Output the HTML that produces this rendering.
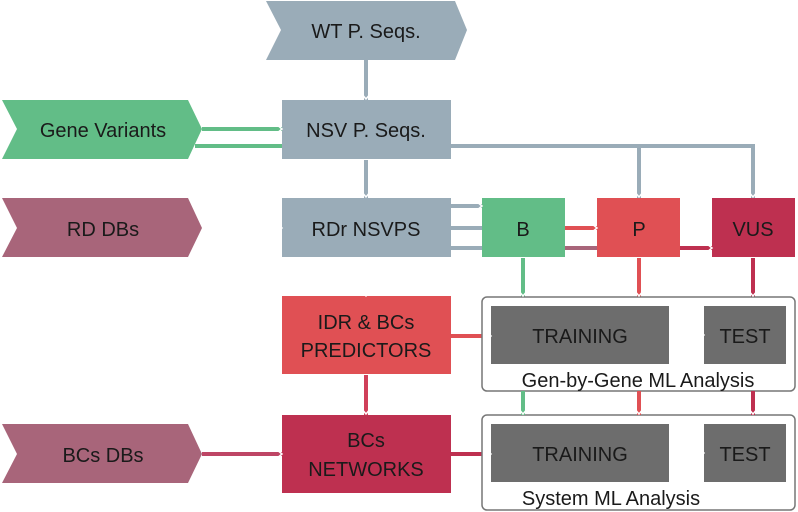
<!DOCTYPE html>
<html><head><style>html,body{margin:0;padding:0;background:#fff}svg{display:block}text{font-family:"Liberation Sans",sans-serif;fill:#1a1a1a}</style></head>
<body>
<svg width="798" height="512" viewBox="0 0 798 512" xmlns="http://www.w3.org/2000/svg">
<defs>
<linearGradient id="gG" x1="0" y1="0" x2="0" y2="1"><stop offset="0" stop-color="#9aacb8"/><stop offset="1" stop-color="#62bd87"/></linearGradient>
<linearGradient id="gR" x1="0" y1="0" x2="0" y2="1"><stop offset="0" stop-color="#9aacb8"/><stop offset="1" stop-color="#e05054"/></linearGradient>
<linearGradient id="gC" x1="0" y1="0" x2="0" y2="1"><stop offset="0" stop-color="#9aacb8"/><stop offset="1" stop-color="#be3050"/></linearGradient>
<linearGradient id="hM" x1="0" y1="0" x2="1" y2="0"><stop offset="0" stop-color="#a8657a"/><stop offset="1" stop-color="#9aacb8"/></linearGradient>
<linearGradient id="vR" x1="0" y1="0" x2="0" y2="1"><stop offset="0" stop-color="#9aacb8"/><stop offset="1" stop-color="#e05054"/></linearGradient>
</defs>
<g stroke-width="4" fill="none">
<line x1="366" y1="60" x2="366" y2="100" stroke="#9aacb8"/>
<line x1="202" y1="129" x2="282" y2="129" stroke="#62bd87"/>
<line x1="195" y1="146" x2="282" y2="146" stroke="#62bd87"/>
<path d="M451 146 H753 V198 M639 146 V198" stroke="#9aacb8"/>
<line x1="523" y1="146" x2="523" y2="198" stroke="url(#gG)"/>
<line x1="639" y1="160" x2="639" y2="198" stroke="url(#gR)"/>
<line x1="753" y1="160" x2="753" y2="198" stroke="url(#gC)"/>
<line x1="366" y1="160" x2="366" y2="198" stroke="#9aacb8"/>
<line x1="202" y1="228" x2="282" y2="228" stroke="url(#hM)"/>
<line x1="451" y1="206" x2="482" y2="206" stroke="#9aacb8"/>
<line x1="451" y1="228" x2="482" y2="228" stroke="#9aacb8"/>
<line x1="451" y1="248" x2="597" y2="248" stroke="#9aacb8"/>
<line x1="565" y1="248" x2="597" y2="248" stroke="#a8657a"/>
<line x1="565" y1="228" x2="597" y2="228" stroke="#e05054"/>
<line x1="680" y1="248" x2="712" y2="248" stroke="#be3050"/>
<line x1="366" y1="258" x2="366" y2="297" stroke="url(#vR)"/>
<line x1="366" y1="375" x2="366" y2="415" stroke="#d0405a"/>
<line x1="451" y1="336" x2="491" y2="336" stroke="#e05054"/>
<line x1="202" y1="454" x2="282" y2="454" stroke="#be4565"/>
<line x1="451" y1="454" x2="491" y2="454" stroke="#be3050"/>
<line x1="523" y1="258" x2="523" y2="424" stroke="#62bd87"/>
<line x1="639" y1="258" x2="639" y2="424" stroke="#e05054"/>
<line x1="753" y1="258" x2="753" y2="424" stroke="#be3050"/>
<line x1="669" y1="335" x2="704" y2="335" stroke="#808080"/>
<line x1="669" y1="453" x2="704" y2="453" stroke="#808080"/>
</g>
<!-- group boxes -->
<rect x="482" y="297" width="313" height="94" rx="5" fill="#fff" stroke="#777" stroke-width="1.5"/>
<rect x="482" y="415" width="313" height="95" rx="5" fill="#fff" stroke="#777" stroke-width="1.5"/>
<line x1="523" y1="391" x2="523" y2="415" stroke="#62bd87" stroke-width="4"/>
<line x1="639" y1="391" x2="639" y2="415" stroke="#e05054" stroke-width="4"/>
<line x1="753" y1="391" x2="753" y2="415" stroke="#be3050" stroke-width="4"/>
<!-- shapes -->
<polygon points="266,1 455,1 467,30 455,60 266,60 281,30" fill="#9aacb8"/>
<polygon points="2,100 188,100 202,129 188,159 2,159 17,129" fill="#62bd87"/>
<polygon points="2,198 188,198 202,228 188,257 2,257 17,228" fill="#a8657a"/>
<polygon points="2,424 188,424 202,454 188,483 2,483 17,454" fill="#a8657a"/>
<rect x="282" y="100" width="169" height="59" fill="#9aacb8"/>
<rect x="282" y="198" width="169" height="59" fill="#9aacb8"/>
<rect x="482" y="198" width="83" height="59" fill="#62bd87"/>
<rect x="597" y="198" width="83" height="59" fill="#e05054"/>
<rect x="712" y="198" width="83" height="59" fill="#be3050"/>
<rect x="282" y="296" width="169" height="78" fill="#e05054"/>
<rect x="282" y="415" width="169" height="78" fill="#be3050"/>
<rect x="491" y="306" width="178" height="58" fill="#6d6d6d"/>
<rect x="704" y="306" width="82" height="58" fill="#6d6d6d"/>
<rect x="491" y="424" width="178" height="58" fill="#6d6d6d"/>
<rect x="704" y="424" width="82" height="58" fill="#6d6d6d"/>
<!-- arrowheads -->
<g stroke="#fff" stroke-width="1.5" fill="none">
<path d="M361 93 L366 99 L371 93"/><path d="M361 191 L366 197 L371 191"/>
<path d="M361 290 L366 296 L371 290"/><path d="M361 408 L366 414 L371 408"/>
<path d="M518 191 L523 197 L528 191"/><path d="M634 191 L639 197 L644 191"/><path d="M748 191 L753 197 L758 191"/>
<path d="M518 290 L523 296 L528 290"/><path d="M634 290 L639 296 L644 290"/><path d="M748 290 L753 296 L758 290"/>
<path d="M518 408 L523 414 L528 408"/><path d="M634 408 L639 414 L644 408"/><path d="M748 408 L753 414 L758 408"/>
<path d="M276 124 L282 129 L276 134"/><path d="M276 223 L282 228 L276 233"/><path d="M276 449 L282 454 L276 459"/>
<path d="M476 201 L482 206 L476 211"/><path d="M591 223 L597 228 L591 233"/><path d="M706 243 L712 248 L706 253"/>
<path d="M485 331 L491 336 L485 341"/><path d="M485 449 L491 454 L485 459"/>
<path d="M698 330 L704 335 L698 340"/><path d="M698 448 L704 453 L698 458"/>
</g>
<g font-size="20" text-anchor="middle">
<text x="366" y="38">WT P. Seqs.</text>
<text x="103" y="137">Gene Variants</text>
<text x="366" y="137">NSV P. Seqs.</text>
<text x="103" y="236">RD DBs</text>
<text x="366" y="236">RDr NSVPS</text>
<text x="523" y="236">B</text>
<text x="639" y="236">P</text>
<text x="753" y="236">VUS</text>
<text x="366" y="329">IDR &amp; BCs</text>
<text x="366" y="357">PREDICTORS</text>
<text x="366" y="447">BCs</text>
<text x="366" y="476">NETWORKS</text>
<text x="103" y="462">BCs DBs</text>
<text x="580" y="343">TRAINING</text>
<text x="745" y="343">TEST</text>
<text x="580" y="461">TRAINING</text>
<text x="745" y="461">TEST</text>
<text x="638" y="387">Gen-by-Gene ML Analysis</text>
<text x="611" y="505">System ML Analysis</text>
</g>
</svg>
</body></html>
